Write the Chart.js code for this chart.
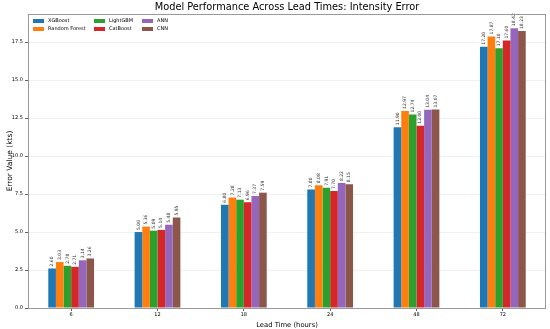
<!DOCTYPE html>
<html>
<head>
<meta charset="utf-8">
<script src="https://cdn.jsdelivr.net/npm/chart.js@4.4.0/dist/chart.umd.min.js"></script>
<style>
  html, body { margin: 0; padding: 0; background: #fff; }
  canvas { display: block; }
</style>
</head>
<body>
<canvas id="chart" width="550" height="329"></canvas>
<script>
// lead times (hours)
const leadTimes = ["6", "12", "18", "24", "48", "72"];
const modelNames = ["XGBoost", "Random Forest", "LightGBM", "CatBoost", "ANN", "CNN"];
const modelColors = ["#1f77b4", "#ff7f0e", "#2ca02c", "#d62728", "#9467bd", "#8c564b"];

// intensity error per model (kts)
const xgboost = [2.60, 5.00, 6.80, 7.80, 11.90, 17.20];
const randomForest = [3.03, 5.36, 7.28, 8.08, 12.97, 17.87];
const lightgbm = [2.78, 5.09, 7.13, 7.91, 12.74, 17.10];
const catboost = [2.71, 5.14, 6.96, 7.70, 12.00, 17.60];
const ann = [3.14, 5.48, 7.37, 8.22, 13.04, 18.42];
const cnn = [3.26, 5.95, 7.59, 8.15, 13.07, 18.23];

const yTicks = [0, 2.5, 5, 7.5, 10, 12.5, 15, 17.5];

const FONT = "'DejaVu Sans', sans-serif";
const seriesData = [xgboost, randomForest, lightgbm, catboost, ann, cnn];

// value labels, frame, title, legend
const extras = {
    id: "extras",
    afterDatasetsDraw(chart) {
        const ctx = chart.ctx;
        ctx.save();
        ctx.fillStyle = "#333";
        ctx.font = "4.5px " + FONT;
        ctx.textAlign = "left";
        ctx.textBaseline = "middle";
        chart.data.datasets.forEach((ds, i) => {
            const meta = chart.getDatasetMeta(i);
            meta.data.forEach((bar, j) => {
                ctx.save();
                ctx.translate(bar.x, bar.y - 2);
                ctx.rotate(-Math.PI / 2);
                ctx.fillText(ds.data[j].toFixed(2), 0, 0);
                ctx.restore();
            });
        });
        ctx.restore();
    },
    afterDraw(chart) {
        const ctx = chart.ctx;
        const a = chart.chartArea;
        ctx.save();
        // spines
        ctx.strokeStyle = "#999";
        ctx.lineWidth = 1;
        ctx.strokeRect(a.left + 0.5, a.top + 0.5, a.right - a.left - 1, a.bottom - a.top);

        // title
        ctx.fillStyle = "#000";
        ctx.font = "9.8px " + FONT;
        ctx.textAlign = "center";
        ctx.textBaseline = "middle";
        ctx.fillText("Model Performance Across Lead Times: Intensity Error", (a.left + a.right) / 2, 7);

        // legend, 3 columns x 2 rows
        ctx.font = "5px " + FONT;
        ctx.textAlign = "left";
        const colX = [a.left + 5, a.left + 66, a.left + 114];
        const rowY = [a.top + 7, a.top + 15];
        modelNames.forEach((name, i) => {
            const c = Math.floor(i / 2), r = i % 2;
            ctx.fillStyle = modelColors[i];
            ctx.fillRect(colX[c], rowY[r] - 2, 11, 4);
            ctx.fillStyle = "#000";
            ctx.fillText(name, colX[c] + 15, rowY[r]);
        });
        ctx.restore();
    }
};

new Chart(document.getElementById("chart"), {
    type: "bar",
    data: {
        labels: leadTimes,
        datasets: modelNames.map((name, i) => ({
            label: name,
            data: seriesData[i],
            backgroundColor: modelColors[i],
            borderWidth: 0,
            categoryPercentage: 0.53,
            barPercentage: 1.0,
        })),
    },
    options: {
        responsive: false,
        animation: false,
        layout: { padding: { top: 14, right: 4, left: 0, bottom: 0 } },
        plugins: {
            legend: { display: false },
            title: { display: false },
            tooltip: { enabled: false },
        },
        scales: {
            x: {
                grid: { drawOnChartArea: false, offset: false, tickLength: 3, tickColor: "#666" },
                border: { display: false },
                ticks: { color: "#000", font: { family: FONT, size: 5 }, padding: 1, maxRotation: 0 },
                title: { display: true, text: "Lead Time (hours)", color: "#000", font: { family: FONT, size: 6.8 }, padding: { top: 2, bottom: 0 } },
                afterFit: (s) => { s.height = 21; },
            },
            y: {
                min: 0,
                max: 19.35,
                afterBuildTicks: (s) => { s.ticks = yTicks.map((v) => ({ value: v })); },
                grid: {
                    color: "rgba(0,0,0,0.06)",
                    tickColor: "#666",
                    tickLength: 3,
                },
                border: { display: false },
                ticks: {
                    color: "#000",
                    font: { family: FONT, size: 5 },
                    padding: 2,
                    callback: (v) => Number(v).toFixed(1),
                },
                title: { display: true, text: "Error Value (kts)", color: "#000", font: { family: FONT, size: 7.5 }, padding: { top: 6, bottom: 2 } },
                afterFit: (s) => { s.width = 28; },
            },
        },
    },
    plugins: [extras],
});
</script>
</body>
</html>
